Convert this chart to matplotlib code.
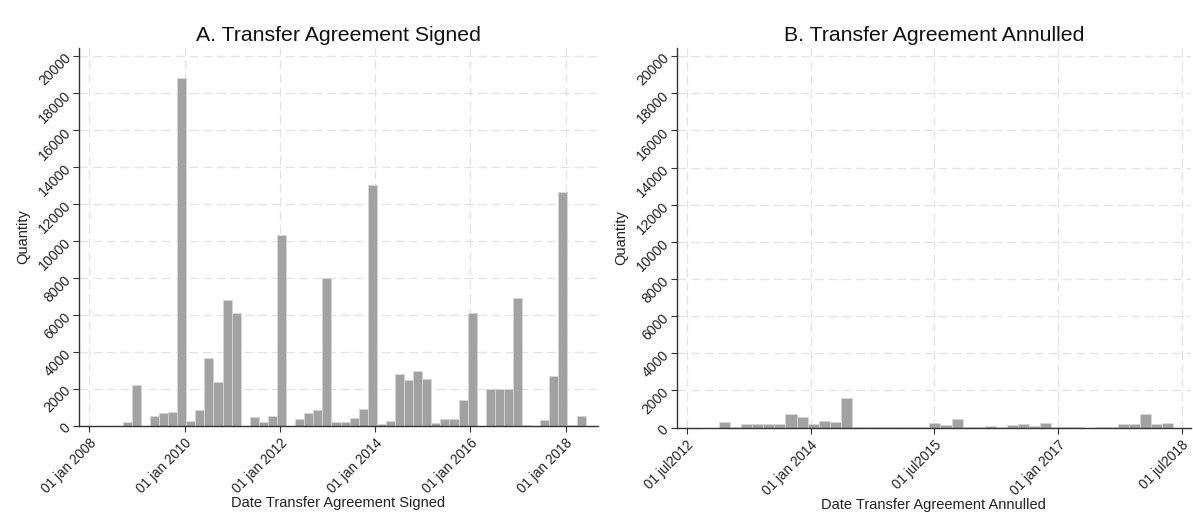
import matplotlib
matplotlib.use('Agg')
import matplotlib.pyplot as plt
import matplotlib.dates as mdates
import numpy as np
import pandas as pd

plt.rcParams['font.family'] = ['Liberation Sans', 'DejaVu Sans']

# histogram bins (start of first bin, bin width in days) and bar heights
signed_start = '2008-09-13'
signed_width_days = 69.6
signed_counts = [200, 2200, 0, 500, 660, 730, 18800, 250, 870, 3640,
                 2350, 6800, 6080, 0, 450, 210, 530, 10300, 0, 355,
                 690, 870, 8000, 210, 210, 410, 910, 13050, 80, 260,
                 2780, 2480, 2980, 2540, 150, 340, 340, 1410, 6080, 0,
                 1960, 2000, 2000, 6920, 30, 0, 300, 2710, 12620, 30,
                 530]

annulled_start = '2012-11-22'
annulled_width_days = 49.0
annulled_counts = [300, 20, 180, 180, 180, 180, 750, 550, 200, 370,
                   310, 1580, 50, 50, 10, 40, 10, 40, 30, 270,
                   150, 480, 10, 20, 100, 60, 150, 210, 110, 250,
                   20, 20, 10, 0, 10, 40, 220, 170, 750, 220,
                   270]

signed_ticks = ['2008-01-01', '2010-01-01', '2012-01-01', '2014-01-01', '2016-01-01', '2018-01-01']
signed_ticklabels = ['01 jan 2008', '01 jan 2010', '01 jan 2012', '01 jan 2014', '01 jan 2016', '01 jan 2018']
signed_xlim = ['2007-10-14', '2018-09-05']

annulled_ticks = ['2012-07-01', '2014-01-01', '2015-07-01', '2017-01-01', '2018-07-01']
annulled_ticklabels = ['01 jul2012', '01 jan 2014', '01 jul2015', '01 jan 2017', '01 jul2018']
annulled_xlim = ['2012-05-20', '2018-08-10']

y_ticks = [0, 2000, 4000, 6000, 8000, 10000, 12000, 14000, 16000, 18000, 20000]


def draw_hist(ax, start, width, counts, ticks, ticklabels, xlim, title, xlabel):
    left = mdates.date2num(pd.Timestamp(start)) + width * np.arange(len(counts))
    ax.bar(left, counts, width=width, align='edge', color='#a2a2a2',
           edgecolor='#d6d6d6', linewidth=0.6, zorder=2)
    tick_pos = mdates.date2num(pd.to_datetime(ticks))
    ax.set_xticks(tick_pos)
    ax.set_xticklabels(ticklabels, rotation=45, ha='right', rotation_mode='anchor', fontsize=9.8)
    ax.set_xlim(mdates.date2num(pd.to_datetime(xlim)))
    ax.set_ylim(0, 20450)
    ax.set_yticks(y_ticks)
    ax.set_yticklabels([str(v) for v in y_ticks], rotation=45, ha='right',
                       va='center', rotation_mode='anchor', fontsize=10.2)
    ax.grid(True, linestyle=(0, (7, 4)), color='#e2e2e2', linewidth=0.9, zorder=0)
    ax.set_axisbelow(True)
    for s in ['top', 'right']:
        ax.spines[s].set_visible(False)
    for s in ['left', 'bottom']:
        ax.spines[s].set_color('#333333')
        ax.spines[s].set_linewidth(1.0)
    ax.tick_params(direction='out', length=4, color='#333333', labelcolor='#222222')
    ax.set_title(title, fontsize=15.3, pad=5, color='#111111')
    ax.set_xlabel(xlabel, fontsize=10.5, color='#222222', labelpad=0)
    ax.set_ylabel('Quantity', fontsize=10.5, color='#222222')


fig = plt.figure(figsize=(11.93, 5.14), dpi=100)
ax1 = fig.add_axes([0.0662, 0.172, 0.4350, 0.735])
ax2 = fig.add_axes([0.5675, 0.168, 0.4305, 0.739])

draw_hist(ax1, signed_start, signed_width_days, signed_counts, signed_ticks,
          signed_ticklabels, signed_xlim, 'A. Transfer Agreement Signed',
          'Date Transfer Agreement Signed')
draw_hist(ax2, annulled_start, annulled_width_days, annulled_counts, annulled_ticks,
          annulled_ticklabels, annulled_xlim, 'B. Transfer Agreement Annulled',
          'Date Transfer Agreement Annulled')

fig.savefig('out.png', dpi=100, facecolor='white')
